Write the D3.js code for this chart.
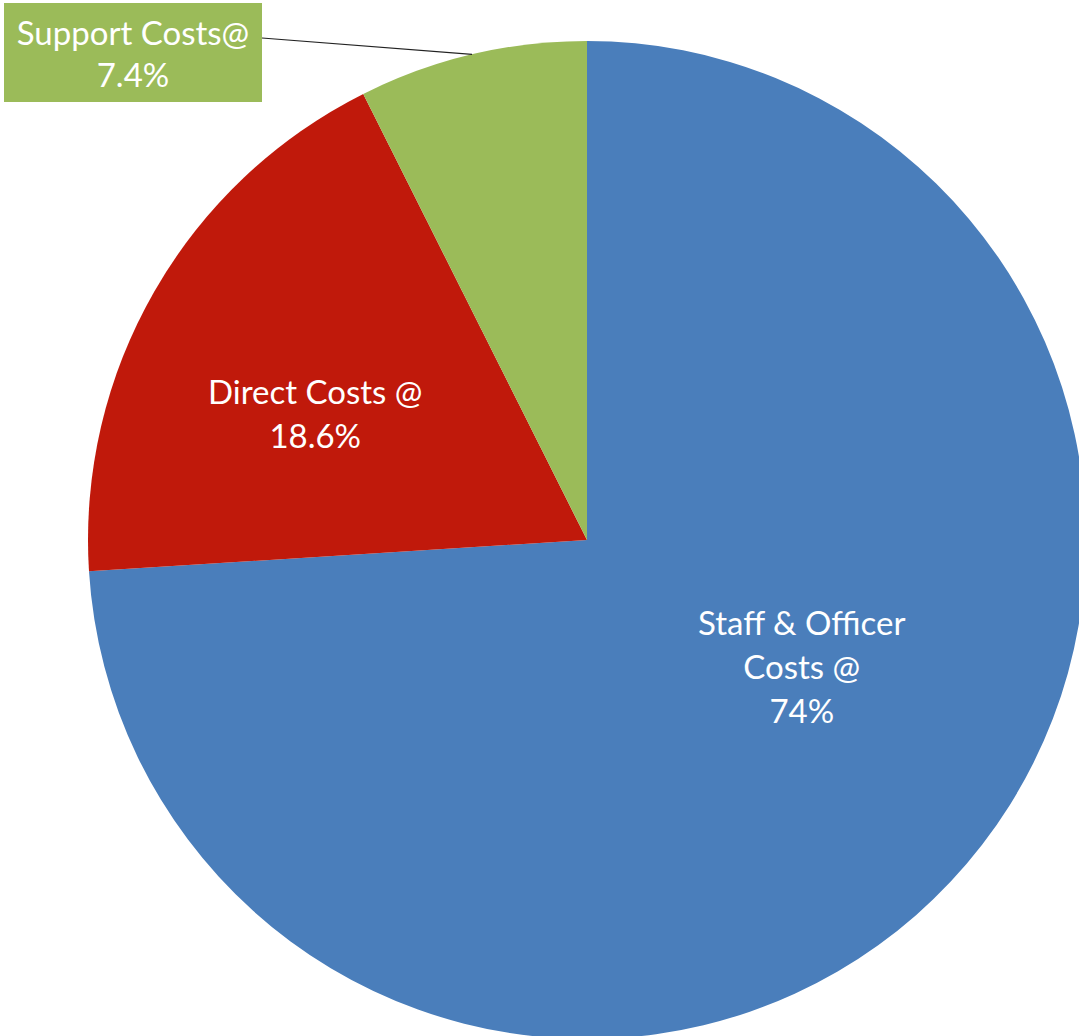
<!DOCTYPE html>
<html>
<head>
<meta charset="utf-8">
<script src="https://cdn.jsdelivr.net/npm/d3@7"></script>
<style>
  body { margin: 0; background: #fff; }
  svg { display: block; }
  text { font-family: Lato, "Open Sans", sans-serif; fill: #fff; }
</style>
</head>
<body>
<svg id="pie-chart"></svg>
<script>
const width = 1079, height = 1036

const categories = ["Staff & Officer Costs", "Direct Costs", "Support Costs"]
const shares = [74, 18.6, 7.4]
const labelLines = [
    ["Staff & Officer", "Costs @", "74%"],
    ["Direct Costs @", "18.6%"],
    ["Support Costs@", "7.4%"],
]
const colors = ["#4a7ebb", "#c0190b", "#9bbb59"]

const cx = 587, cy = 540, radius = 499

const svg = d3.select("svg#pie-chart")
    .attr("viewBox", [0, 0, width, height])
    .attr("width", width)
    .attr("height", height)

const data = categories.map((name, i) => ({name, value: shares[i], lines: labelLines[i], color: colors[i]}))

const pie = d3.pie()
    .sort(null)
    .value(d => d.value)

const arc = d3.arc().innerRadius(0).outerRadius(radius)

const g = svg.append("g").attr("transform", `translate(${cx}, ${cy})`)

const arcs = pie(data)

g.selectAll("path")
    .data(arcs)
    .enter()
    .append("path")
    .attr("d", arc)
    .attr("fill", d => d.data.color)

const fontSize = 33, lineHeight = 44

// inside labels, placed like Excel does (angle in degrees clockwise from top, radius fraction)
const inside = [
    {i: 0, deg: 120.6, r: 0.5},
    {i: 1, deg: 294.8, r: 0.6},
]
inside.forEach(({i, deg, r}) => {
    const a = deg * Math.PI / 180
    const x = Math.sin(a) * radius * r
    const y = -Math.cos(a) * radius * r
    const lines = arcs[i].data.lines
    const t = g.append("text")
        .attr("text-anchor", "middle")
        .attr("font-size", fontSize)
    lines.forEach((ln, k) => {
        t.append("tspan")
            .attr("x", x)
            .attr("y", y + (k - (lines.length - 1) / 2) * lineHeight + fontSize * 0.36)
            .text(ln)
    })
})

// callout for the small slice
const small = arcs[2]
const anchorAngle = (small.startAngle + small.endAngle) / 2
const ax = cx + Math.sin(anchorAngle) * radius
const ay = cy - Math.cos(anchorAngle) * radius
const box = {x: 4, y: 3, w: 258, h: 99}

svg.append("line")
    .attr("x1", box.x + box.w)
    .attr("y1", 38)
    .attr("x2", ax)
    .attr("y2", ay)
    .attr("stroke", "#222")
    .attr("stroke-width", 1.2)

svg.append("rect")
    .attr("x", box.x)
    .attr("y", box.y)
    .attr("width", box.w)
    .attr("height", box.h)
    .attr("fill", small.data.color)

const st = svg.append("text")
    .attr("text-anchor", "middle")
    .attr("font-size", fontSize)
small.data.lines.forEach((ln, k) => {
    st.append("tspan")
        .attr("x", box.x + box.w / 2)
        .attr("y", 45 + k * 42)
        .text(ln)
})
</script>
</body>
</html>
